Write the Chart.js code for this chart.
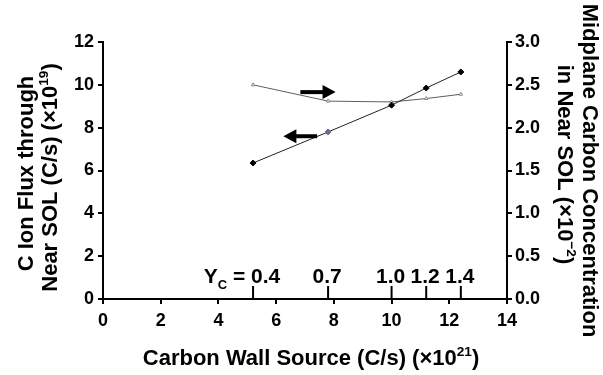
<!DOCTYPE html>
<html><head><meta charset="utf-8">
<script src="https://cdn.jsdelivr.net/npm/chart.js@4"></script>
<style>html,body{margin:0;padding:0;background:#fff}#w{width:603px;height:375px}</style>
</head><body><div id="w"><canvas id="c" width="603" height="375"></canvas></div>
<script>
// ---- data ----
const wallSource    = [5.2, 7.8, 10.0, 11.2, 12.4];      // x (×10^21 C/s)
const ionFlux       = [6.35, 7.8, 9.05, 9.85, 10.6];     // left axis (×10^19 C/s)
const concentration = [2.5, 2.31, 2.3, 2.34, 2.39];      // right axis (×10^-2)
const yieldLabels   = ['0.4', '0.7', '1.0', '1.2', '1.4']; // Y_C at each source
const fluxPointColors = ['#000', '#6f6a93', '#000', '#000', '#000'];

const FONT = '"Liberation Sans", Arial, sans-serif';

function richWidth(ctx, segs, size) {
  let w = 0;
  for (const s of segs) {
    const fs = (s.sup || s.sub) ? size * 0.62 : size;
    ctx.font = 'bold ' + fs + 'px ' + FONT;
    w += ctx.measureText(s.t).width;
  }
  return w;
}
function drawRich(ctx, segs, x, y, size, align) {
  const w = richWidth(ctx, segs, size);
  let cx = align === 'center' ? x - w / 2 : (align === 'right' ? x - w : x);
  ctx.textBaseline = 'alphabetic';
  ctx.textAlign = 'left';
  ctx.fillStyle = '#000';
  for (const s of segs) {
    const fs = (s.sup || s.sub) ? size * 0.62 : size;
    ctx.font = 'bold ' + fs + 'px ' + FONT;
    let dy = 0;
    if (s.sup) dy = -size * 0.42;
    if (s.sub) dy = size * 0.28;
    ctx.fillText(s.t, cx, y + dy);
    cx += ctx.measureText(s.t).width;
  }
}

const annotations = {
  id: 'annotations',
  afterDatasetsDraw(chart) {
    const ctx = chart.ctx, xs = chart.scales.x, yl = chart.scales.y, yr = chart.scales.y2;
    const area = chart.chartArea;
    ctx.save();
    // arrows (data coordinates)
    function arrow(x0, x1, py) {
      const a = xs.getPixelForValue(x0), b = xs.getPixelForValue(x1);
      const dir = Math.sign(b - a);
      ctx.strokeStyle = '#000'; ctx.fillStyle = '#000';
      ctx.lineWidth = 4;
      ctx.beginPath(); ctx.moveTo(a, py); ctx.lineTo(b - dir * 9, py); ctx.stroke();
      ctx.beginPath();
      ctx.moveTo(b, py); ctx.lineTo(b - dir * 13, py - 7); ctx.lineTo(b - dir * 13, py + 7);
      ctx.closePath(); ctx.fill();
    }
    arrow(6.84, 8.06, yr.getPixelForValue(2.415));
    arrow(7.42, 6.25, yl.getPixelForValue(7.6));
    // Y_C markers
    ctx.strokeStyle = '#000'; ctx.lineWidth = 2;
    wallSource.forEach((v, i) => {
      const px = xs.getPixelForValue(v);
      ctx.beginPath(); ctx.moveTo(px, area.bottom); ctx.lineTo(px, area.bottom - 13); ctx.stroke();
      const base = area.bottom - 16;
      if (i === 0) {
        drawRich(ctx, [{t: '0.4'}], px - 2, base, 21, 'left');
        drawRich(ctx, [{t: 'Y'}, {t: 'C', sub: true}, {t: ' = '}], px - 2, base, 21, 'right');
      } else {
        drawRich(ctx, [{t: yieldLabels[i]}], px - 1, base, 21, 'center');
      }
    });
    ctx.restore();
  },
  afterDraw(chart) {
    const ctx = chart.ctx, area = chart.chartArea;
    ctx.save();
    // x title
    drawRich(ctx, [{t: 'Carbon Wall Source (C/s) (×10'}, {t: '21', sup: true}, {t: ')'}],
      (area.left + area.right) / 2 + 6, 365, 22, 'center');
    // left title
    const cy = (area.top + area.bottom) / 2;
    ctx.save(); ctx.translate(33, cy + 3); ctx.rotate(-Math.PI / 2);
    drawRich(ctx, [{t: 'C Ion Flux through'}], 0, 0, 22, 'center');
    ctx.restore();
    ctx.save(); ctx.translate(57, cy + 7); ctx.rotate(-Math.PI / 2);
    drawRich(ctx, [{t: 'Near SOL (C/s) (×10'}, {t: '19', sup: true}, {t: ')'}], 0, 0, 22, 'center');
    ctx.restore();
    // right title
    ctx.save(); ctx.translate(583, cy); ctx.rotate(Math.PI / 2);
    drawRich(ctx, [{t: 'Midplane Carbon Concentration'}], 0, 0, 22, 'center');
    ctx.restore();
    ctx.save(); ctx.translate(558, cy - 6); ctx.rotate(Math.PI / 2);
    drawRich(ctx, [{t: 'in Near SOL (×10'}, {t: '−2', sup: true}, {t: ')'}], 0, 0, 22, 'center');
    ctx.restore();
    ctx.restore();
  }
};

const tickFont = {family: FONT, size: 18, weight: 'bold'};
const axisGrid = {display: true, drawOnChartArea: false, drawTicks: true, tickLength: 5, color: '#000', lineWidth: 2};
const axisBorder = {display: true, color: '#000', width: 2};

new Chart(document.getElementById('c'), {
  type: 'line',
  data: {
    datasets: [
      {
        label: 'C ion flux',
        data: wallSource.map((x, i) => ({x, y: ionFlux[i]})),
        yAxisID: 'y',
        borderColor: '#222', borderWidth: 1,
        pointStyle: 'rectRot', pointRadius: 3,
        pointBackgroundColor: fluxPointColors, pointBorderColor: fluxPointColors,
        tension: 0, fill: false
      },
      {
        label: 'Carbon concentration',
        data: wallSource.map((x, i) => ({x, y: concentration[i]})),
        yAxisID: 'y2',
        borderColor: '#5e5e5e', borderWidth: 1,
        pointStyle: 'triangle', pointRadius: 2,
        pointBackgroundColor: '#fff', pointBorderColor: '#888', pointBorderWidth: 1,
        tension: 0, fill: false
      }
    ]
  },
  options: {
    responsive: false, animation: false, devicePixelRatio: 1,
    layout: {padding: {top: 42, left: 0, right: 0, bottom: 0}},
    plugins: {legend: {display: false}, tooltip: {enabled: false}},
    scales: {
      x: {
        type: 'linear', min: 0, max: 14,
        ticks: {stepSize: 2, font: tickFont, color: '#000', padding: 6, maxRotation: 0},
        grid: axisGrid, border: axisBorder,
        afterFit: s => { s.height = 76; }
      },
      y: {
        position: 'left', min: 0, max: 12,
        ticks: {stepSize: 2, font: tickFont, color: '#000', padding: 4},
        grid: axisGrid, border: axisBorder,
        afterFit: s => { s.width = 103; }
      },
      y2: {
        position: 'right', min: 0, max: 3,
        ticks: {stepSize: 0.5, font: tickFont, color: '#000', padding: 3, callback: v => v.toFixed(1)},
        grid: axisGrid, border: axisBorder,
        afterFit: s => { s.width = 96; }
      }
    }
  },
  plugins: [annotations]
});
</script>
</body></html>
